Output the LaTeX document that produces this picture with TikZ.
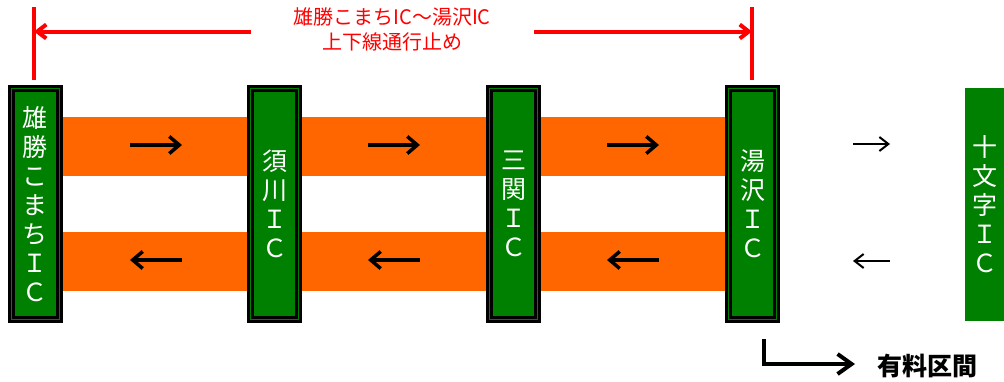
\documentclass[tikz,border=0pt]{standalone}
\usepackage{fontspec}
\newfontfamily\cjk{Noto Sans CJK JP}
\usetikzlibrary{positioning, arrows.meta}

\definecolor{icgreen}{RGB}{0,128,0}
\definecolor{road}{RGB}{255,102,0}
\definecolor{closed}{RGB}{255,0,0}

\begin{document}
\begin{tikzpicture}[x=1pt,y=-1pt,node distance=239pt,
  ic/.style={draw=black, double=icgreen, double distance=1pt, line width=3pt,
    fill=icgreen, text=white, minimum width=48pt, minimum height=231pt,
    inner sep=0pt, align=center, font=\cjk\fontsize{25}{29}\selectfont},
  icplain/.style={fill=icgreen, text=white, minimum width=39pt, minimum height=233pt,
    inner sep=0pt, align=center, font=\cjk\fontsize{25}{29}\selectfont},
  dir/.style={line width=3.5pt, -{Straight Barb[length=10pt,width=17pt]}},
  dirthin/.style={line width=2pt, -{Straight Barb[length=9pt,width=14pt]}},
  redline/.style={draw=closed, line width=4pt},
  bracket/.style={line width=4pt, -{Straight Barb[length=14pt,width=20pt]}}]
  \useasboundingbox (0,0) rectangle (1004,381);

  % road bands
  \fill[road] (63,117) rectangle (725,176);
  \fill[road] (63,232) rectangle (725,291);

  % interchanges
  \node[ic]            (ogachi)             at (35.5,204) {雄\\勝\\こ\\ま\\ち\\Ｉ\\Ｃ};
  \node[ic]            (sukawa)  [right of=ogachi]        {須\\川\\Ｉ\\Ｃ};
  \node[ic]            (sanseki) [right of=sukawa]        {三\\関\\Ｉ\\Ｃ};
  \node[ic]            (yuzawa)  [right of=sanseki]       {湯\\沢\\Ｉ\\Ｃ};
  \node[icplain]       (jumonji)            at (984.5,204.5) {十\\文\\字\\Ｉ\\Ｃ};

  % traffic directions
  \foreach \x in {156,394,633} {
    \draw[dir] (\x-26,145) -- (\x+26,145);
    \draw[dir] (\x+26,260) -- (\x-26,260);
  }
  \draw[dirthin] (853,144) -- (890,144);
  \draw[dirthin] (890,261) -- (853,261);

  % closed section
  \coordinate (lefttop)  at (34,7);
  \coordinate (leftbot)  at (34,80);
  \coordinate (righttop) at (752,7);
  \coordinate (rightbot) at (752,80);
  \draw[redline] (lefttop) -- (leftbot);
  \draw[redline] (righttop) -- (rightbot);
  \node[text=closed, align=center, font=\cjk\fontsize{20}{25}\selectfont]
    (closure) at (392,29.5) {雄勝こまちIC～湯沢IC\\上下線通行止め};
  \coordinate (gapleft)  at (251,31.5);
  \coordinate (gapright) at (534,31.5);
  \draw[redline, -{Straight Barb[length=9pt,width=14pt]}] (gapleft) -- (lefttop |- gapleft);
  \draw[redline, -{Straight Barb[length=9pt,width=14pt]}] (gapright) -- (righttop |- gapright);

  % toll section
  \coordinate (tollstart) at (764,339);
  \node[font=\cjk\fontsize{25}{28}\selectfont\bfseries] (toll) at (927,366) {有料区間};
  \draw[bracket] (tollstart) |- (855,364);
\end{tikzpicture}
\end{document}
